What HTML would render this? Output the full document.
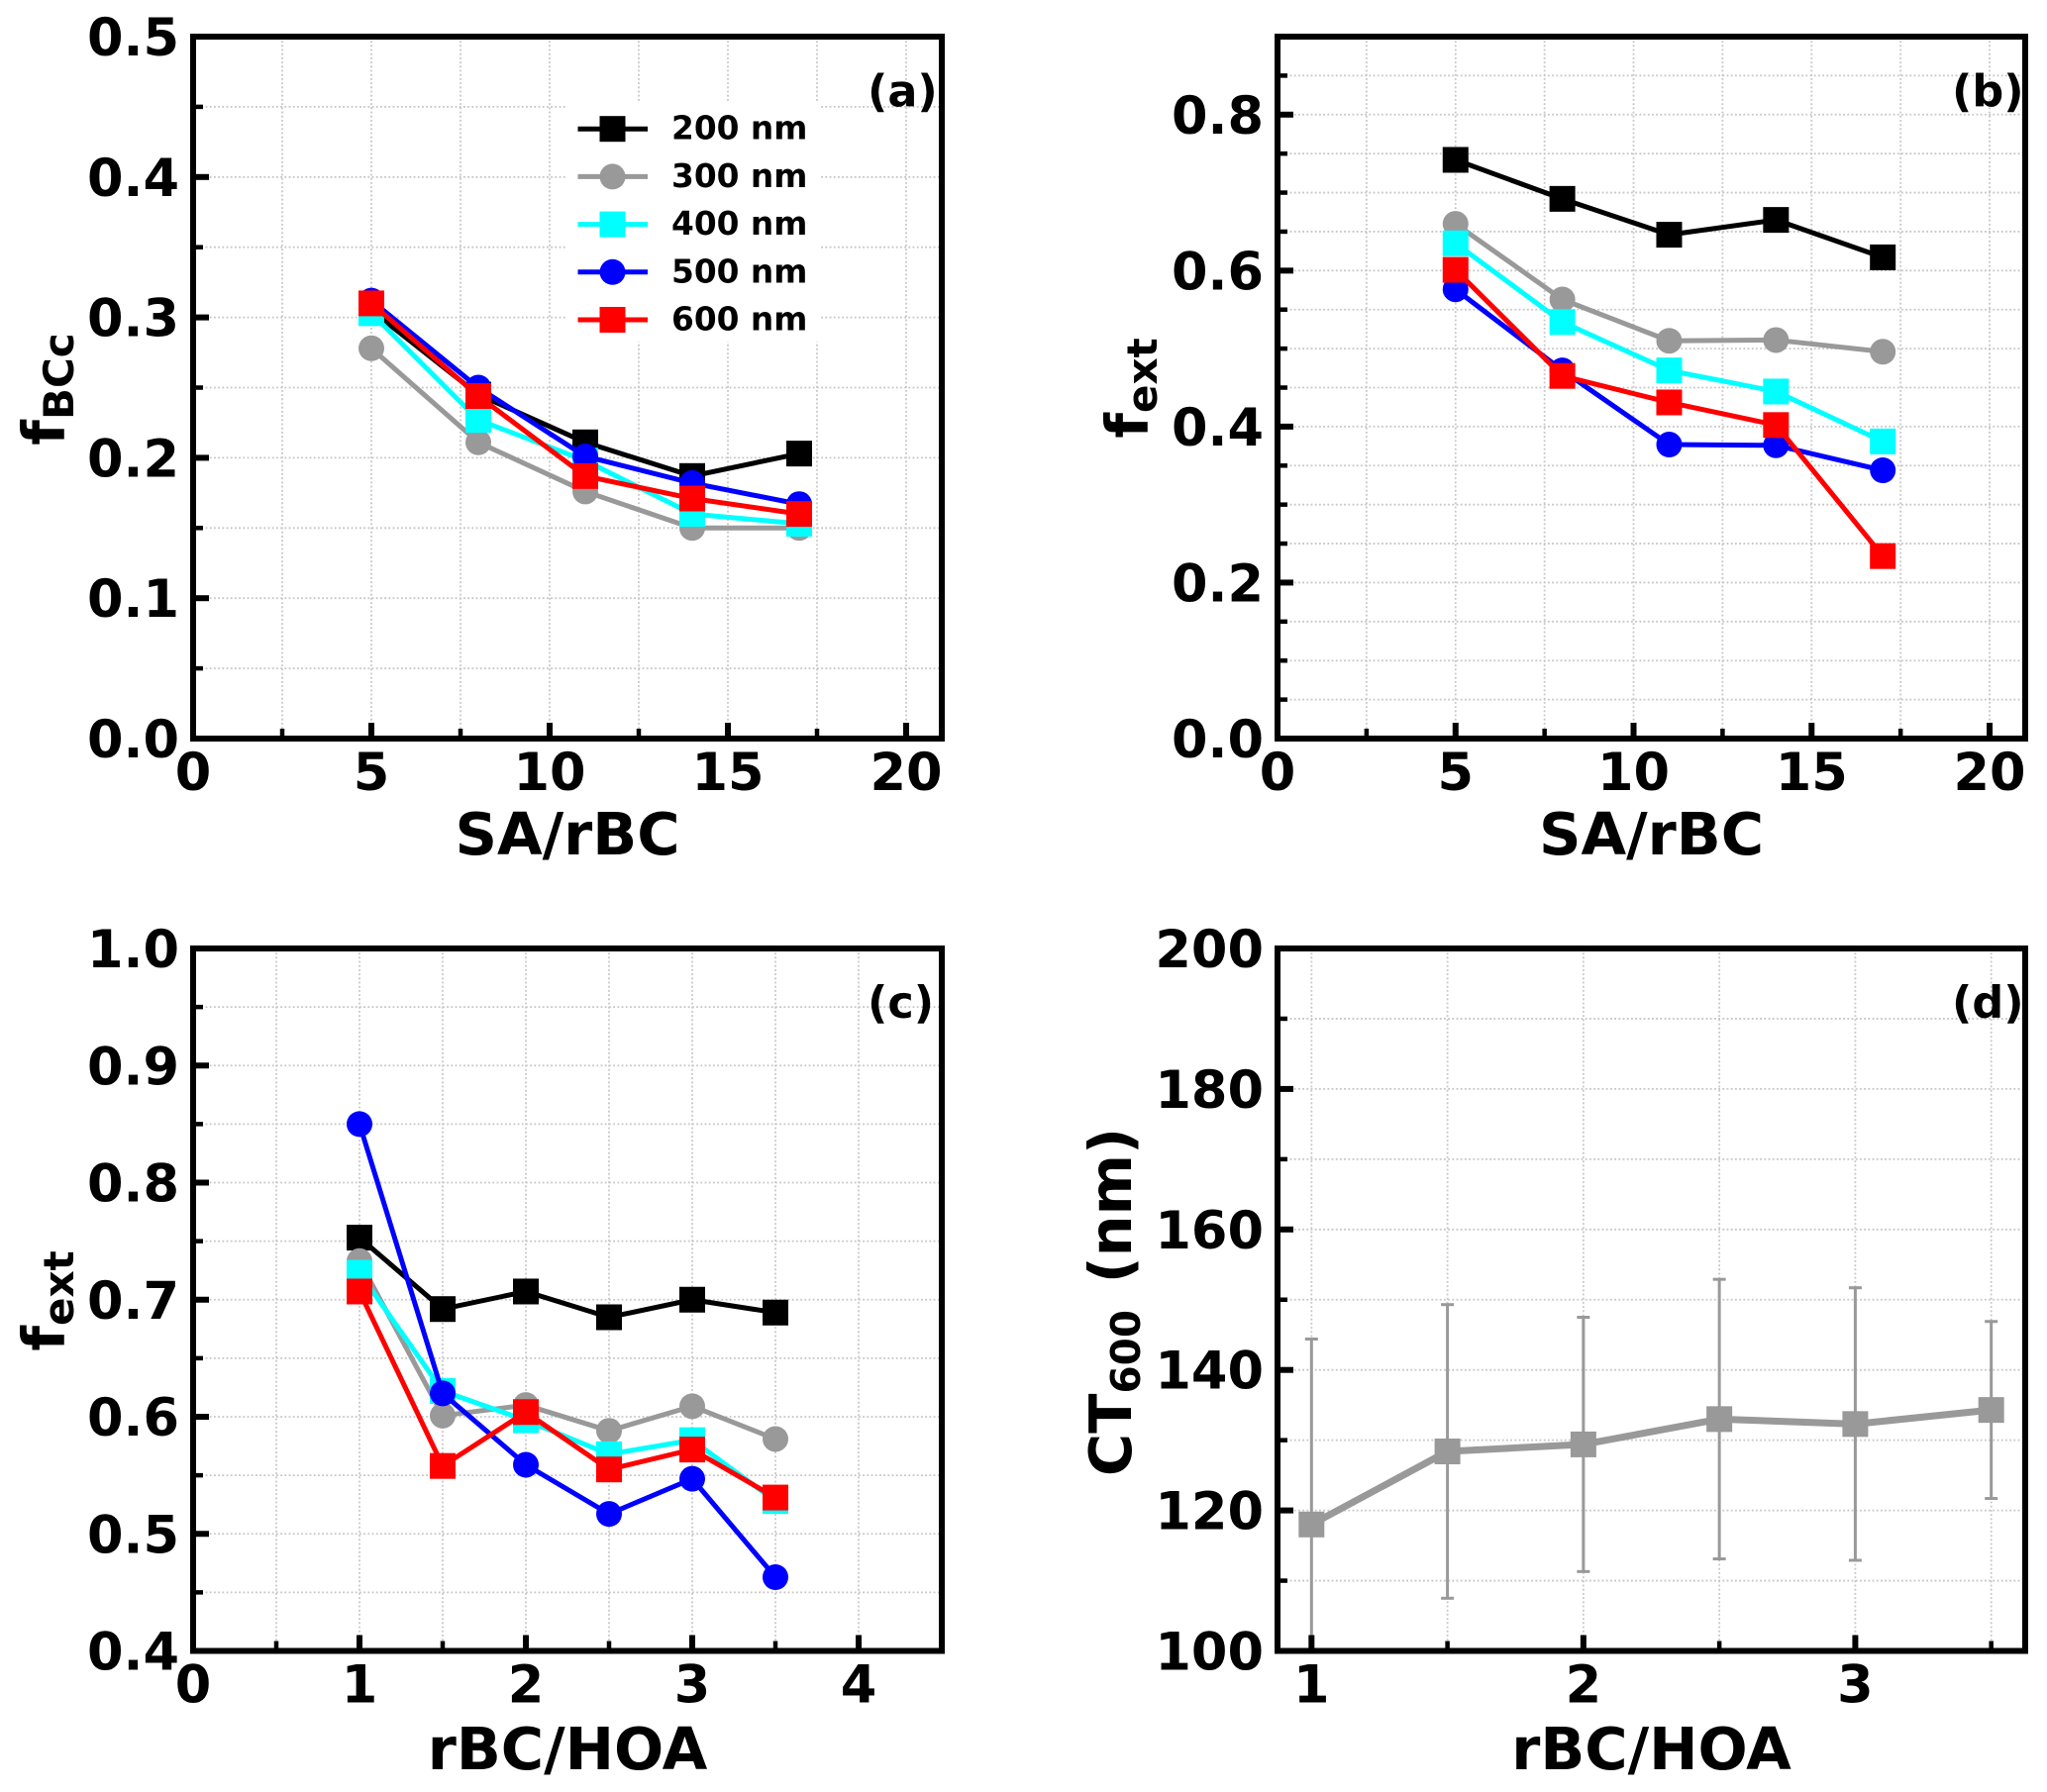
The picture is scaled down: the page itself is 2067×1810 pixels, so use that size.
<!DOCTYPE html>
<html lang="en">
<head>
<meta charset="utf-8">
<title>Four-panel line charts</title>
<style>
html,body{margin:0;padding:0;background:#fff;}
svg{display:block;}
text{font-family:"DejaVu Sans","Liberation Sans",sans-serif;font-weight:bold;fill:#000;}
</style>
</head>
<body>
<svg id="figure" xmlns="http://www.w3.org/2000/svg" width="2067" height="1810" viewBox="0 0 2067 1810"></svg>
<script>
// ---- shared series names ----
const sizeLabels = ['200 nm', '300 nm', '400 nm', '500 nm', '600 nm'];

// ---- panel (a) ----
const xValuesA = [5, 8, 11, 14, 17];
const fbcc200 = [0.305, 0.245, 0.211, 0.187, 0.203];
const fbcc300 = [0.278, 0.211, 0.176, 0.150, 0.150];
const fbcc400 = [0.303, 0.227, 0.198, 0.160, 0.153];
const fbcc500 = [0.312, 0.250, 0.201, 0.182, 0.167];
const fbcc600 = [0.310, 0.244, 0.187, 0.171, 0.160];
const xMajorA = [0, 5, 10, 15, 20];
const xMinorA = [2.5, 7.5, 12.5, 17.5];
const yMajorA = [0, 0.1, 0.2, 0.3, 0.4, 0.5];
const yMinorA = [0.05, 0.15, 0.25, 0.35, 0.45];

// ---- panel (b) ----
const xValuesB = [5, 8, 11, 14, 17];
const fextB200 = [0.742, 0.692, 0.646, 0.665, 0.617];
const fextB300 = [0.660, 0.563, 0.510, 0.511, 0.496];
const fextB400 = [0.635, 0.534, 0.472, 0.445, 0.381];
const fextB500 = [0.576, 0.472, 0.377, 0.376, 0.344];
const fextB600 = [0.601, 0.465, 0.431, 0.402, 0.234];
const xMajorB = [0, 5, 10, 15, 20];
const xMinorB = [2.5, 7.5, 12.5, 17.5];
const yMajorB = [0, 0.2, 0.4, 0.6, 0.8];
const yMinorB = [0.05, 0.1, 0.15, 0.25, 0.3, 0.35, 0.45, 0.5, 0.55, 0.65, 0.7, 0.75, 0.85];

// ---- panel (c) ----
const xValuesC = [1, 1.5, 2, 2.5, 3, 3.5];
const fextC200 = [0.753, 0.692, 0.707, 0.685, 0.700, 0.689];
const fextC300 = [0.733, 0.601, 0.610, 0.588, 0.609, 0.581];
const fextC400 = [0.723, 0.622, 0.597, 0.568, 0.580, 0.528];
const fextC500 = [0.850, 0.620, 0.559, 0.517, 0.547, 0.463];
const fextC600 = [0.707, 0.558, 0.604, 0.555, 0.572, 0.531];
const xMajorC = [0, 1, 2, 3, 4];
const xMinorC = [0.5, 1.5, 2.5, 3.5];
const yMajorC = [0.4, 0.5, 0.6, 0.7, 0.8, 0.9, 1.0];
const yMinorC = [0.45, 0.55, 0.65, 0.75, 0.85, 0.95];

// ---- panel (d) ----
const xValuesD = [1, 1.5, 2, 2.5, 3, 3.5];
const ct600Mean = [118.0, 128.4, 129.4, 133.0, 132.3, 134.3];
const ct600Error = [26.4, 20.9, 18.1, 19.9, 19.4, 12.6];
const xMajorD = [1, 2, 3];
const xMinorD = [1.5, 2.5, 3.5];
const yMajorD = [100, 120, 140, 160, 180, 200];
const yMinorD = [110, 130, 150, 170, 190];

const seriesColors = ['#000000', '#999999', '#00ffff', '#0000ff', '#ff0000'];
const seriesShapes = ['square', 'circle', 'square', 'circle', 'square'];

const SVG_NS = 'http://www.w3.org/2000/svg';
const figure = document.getElementById('figure');

function svgEl(tag, attrs, parent, content) {
  const node = document.createElementNS(SVG_NS, tag);
  for (const key in attrs) node.setAttribute(key, attrs[key]);
  if (content !== undefined) node.textContent = content;
  parent.appendChild(node);
  return node;
}

function linearAxis(domainMin, domainMax, rangeMin, rangeMax) {
  return function (value) {
    return rangeMin + (value - domainMin) / (domainMax - domainMin) * (rangeMax - rangeMin);
  };
}

function drawMarker(parent, shape, cx, cy, color, seriesName) {
  let el;
  if (shape === 'circle') {
    el = svgEl('circle', {cx: cx, cy: cy, r: 13, fill: color}, parent);
  } else {
    el = svgEl('rect', {x: cx - 13, y: cy - 13, width: 26, height: 26, fill: color}, parent);
  }
  
  
}

function drawPanel(p) {
  const sx = linearAxis(p.xMin, p.xMax, p.left, p.right);
  const sy = linearAxis(p.yMin, p.yMax, p.bottom, p.top);

  const panel = svgEl('g', {}, figure);
  
  

  const defs = svgEl('defs', {}, panel);
  const clip = svgEl('clipPath', {id: 'clip-' + p.id}, defs);
  svgEl('rect', {x: p.left, y: p.top, width: p.right - p.left, height: p.bottom - p.top}, clip);

  // grid
  const grid = svgEl('g', {stroke: '#c6c6c6', 'stroke-width': 1.8, 'stroke-dasharray': '1.8 2.4', fill: 'none'}, panel);
  
  
  p.xMajor.concat(p.xMinor).forEach(function (v) {
    const gridV = svgEl('line', {x1: sx(v), x2: sx(v), y1: p.top, y2: p.bottom}, grid);
    
    
  });
  p.yMajor.concat(p.yMinor).forEach(function (v) {
    const gridH = svgEl('line', {x1: p.left, x2: p.right, y1: sy(v), y2: sy(v)}, grid);
    
    
  });

  // error bars
  const plot = svgEl('g', {'clip-path': 'url(#clip-' + p.id + ')'}, panel);
  
  

  if (p.errors) {
    p.x.forEach(function (xv, i) {
      const hi = p.series[0].values[i] + p.errors[i];
      const lo = p.series[0].values[i] - p.errors[i];
      const bar = svgEl('line', {x1: sx(xv), x2: sx(xv), y1: sy(hi), y2: sy(lo), stroke: p.series[0].color, 'stroke-width': 3}, plot);
      
      
      [hi, lo].forEach(function (capValue) {
        const cap = svgEl('line', {x1: sx(xv) - 6.5, x2: sx(xv) + 6.5, y1: sy(capValue), y2: sy(capValue), stroke: p.series[0].color, 'stroke-width': 3}, plot);
        
        
      });
    });
  }

  // series
  p.series.forEach(function (s) {
    const group = svgEl('g', {}, plot);
    
    
    const pts = s.values.map(function (v, i) { return sx(p.x[i]) + ',' + sy(v); }).join(' ');
    const line = svgEl('polyline', {points: pts, fill: 'none', stroke: s.color, 'stroke-width': p.lineWidth, 'stroke-linejoin': 'round'}, group);
    
    
    s.values.forEach(function (v, i) {
      drawMarker(group, s.shape, sx(p.x[i]), sy(v), s.color, s.name.replace(' ', '-'));
    });
  });

  // legend
  if (p.legend) {
    const legend = svgEl('g', {}, panel);
    
    
    const bg = svgEl('rect', {x: 572, y: 104, width: 256, height: 241, fill: '#fff'}, legend);
    
    
    p.series.forEach(function (s, i) {
      const rowY = 130.2 + i * 48.2;
      const entry = svgEl('g', {}, legend);
      
      
      const key = svgEl('line', {x1: 583.5, x2: 654, y1: rowY, y2: rowY, stroke: s.color, 'stroke-width': 5}, entry);
      
      
      drawMarker(entry, s.shape, 618.5, rowY, s.color, 'legend');
      const label = svgEl('text', {x: 678, y: rowY + 10.5, 'font-size': 32.8}, entry, s.name);
      
      
    });
  }

  // frame
  const frame = svgEl('rect', {x: p.left, y: p.top, width: p.right - p.left, height: p.bottom - p.top, fill: 'none', stroke: '#000', 'stroke-width': 6}, panel);
  
  

  // ticks
  const ticks = svgEl('g', {stroke: '#000'}, panel);
  
  
  p.xMajor.forEach(function (v) {
    const t = svgEl('line', {x1: sx(v), x2: sx(v), y1: p.bottom, y2: p.bottom - 16, 'stroke-width': 6}, ticks);
    
    
  });
  p.xMinor.forEach(function (v) {
    const t = svgEl('line', {x1: sx(v), x2: sx(v), y1: p.bottom, y2: p.bottom - 10, 'stroke-width': 4.5}, ticks);
    
    
  });
  p.yMajor.forEach(function (v) {
    const t = svgEl('line', {x1: p.left, x2: p.left + 16, y1: sy(v), y2: sy(v), 'stroke-width': 6}, ticks);
    
    
  });
  p.yMinor.forEach(function (v) {
    const t = svgEl('line', {x1: p.left, x2: p.left + 10, y1: sy(v), y2: sy(v), 'stroke-width': 4.5}, ticks);
    
    
  });

  // tick labels
  p.xMajor.forEach(function (v) {
    const t = svgEl('text', {x: sx(v), y: p.bottom + 52, 'font-size': 52.5, 'text-anchor': 'middle'}, panel, String(v));
    
    
  });
  p.yMajor.forEach(function (v) {
    const t = svgEl('text', {x: p.left - 14, y: sy(v) + 19, 'font-size': 52.5, 'text-anchor': 'end'}, panel, v.toFixed(p.yDecimals));
    
    
  });

  // axis titles
  const xTitle = svgEl('text', {x: (p.left + p.right) / 2, y: p.xTitleY, 'font-size': 59, 'text-anchor': 'middle'}, panel, p.xTitle);
  
  

  const yTitle = svgEl('text', {x: 0, y: 0, 'font-size': 59, 'text-anchor': 'middle', transform: 'translate(' + p.yTitleX + ' ' + p.yTitleY + ') rotate(-90)'}, panel);
  
  
  svgEl('tspan', {}, yTitle, p.yTitleMain);
  svgEl('tspan', {dy: 9, 'font-size': p.yTitleSubSize}, yTitle, p.yTitleSub);
  if (p.yTitleTail) svgEl('tspan', {dy: -9, dx: 6}, yTitle, p.yTitleTail);

  const tag = svgEl('text', {x: p.tagX, y: p.tagY, 'font-size': 44.5}, panel, '(' + p.id + ')');
  
  
}

function buildSeries(valueArrays) {
  return valueArrays.map(function (values, i) {
    return {name: sizeLabels[i], values: values, color: seriesColors[i], shape: seriesShapes[i]};
  });
}

drawPanel({
  id: 'a', left: 195, right: 951, top: 37, bottom: 746,
  xMin: 0, xMax: 21, yMin: 0, yMax: 0.5, yDecimals: 1, lineWidth: 5,
  x: xValuesA, series: buildSeries([fbcc200, fbcc300, fbcc400, fbcc500, fbcc600]),
  xMajor: xMajorA, xMinor: xMinorA, yMajor: yMajorA, yMinor: yMinorA,
  legend: true, xTitle: 'SA/rBC', xTitleY: 863,
  yTitleMain: 'f', yTitleSub: 'BCc', yTitleSubSize: 42, yTitleX: 65, yTitleY: 393,
  tagX: 876, tagY: 107.5
});

drawPanel({
  id: 'b', left: 1290, right: 2045, top: 37, bottom: 746,
  xMin: 0, xMax: 21, yMin: 0, yMax: 0.9, yDecimals: 1, lineWidth: 5,
  x: xValuesB, series: buildSeries([fextB200, fextB300, fextB400, fextB500, fextB600]),
  xMajor: xMajorB, xMinor: xMinorB, yMajor: yMajorB, yMinor: yMinorB,
  xTitle: 'SA/rBC', xTitleY: 863,
  yTitleMain: 'f', yTitleSub: 'ext', yTitleSubSize: 42, yTitleX: 1159, yTitleY: 392,
  tagX: 1971, tagY: 107.5
});

drawPanel({
  id: 'c', left: 195, right: 951, top: 958, bottom: 1667.5,
  xMin: 0, xMax: 4.5, yMin: 0.4, yMax: 1.0, yDecimals: 1, lineWidth: 5,
  x: xValuesC, series: buildSeries([fextC200, fextC300, fextC400, fextC500, fextC600]),
  xMajor: xMajorC, xMinor: xMinorC, yMajor: yMajorC, yMinor: yMinorC,
  xTitle: 'rBC/HOA', xTitleY: 1787,
  yTitleMain: 'f', yTitleSub: 'ext', yTitleSubSize: 42, yTitleX: 65, yTitleY: 1314,
  tagX: 876, tagY: 1028
});

drawPanel({
  id: 'd', left: 1290, right: 2045, top: 958, bottom: 1667.5,
  xMin: 0.875, xMax: 3.625, yMin: 100, yMax: 200, yDecimals: 0, lineWidth: 7,
  x: xValuesD, series: [{name: 'ct600', values: ct600Mean, color: '#999999', shape: 'square'}],
  errors: ct600Error,
  xMajor: xMajorD, xMinor: xMinorD, yMajor: yMajorD, yMinor: yMinorD,
  xTitle: 'rBC/HOA', xTitleY: 1787,
  yTitleMain: 'CT', yTitleSub: '600', yTitleSubSize: 40.6, yTitleTail: '\u00a0(nm)', yTitleX: 1142, yTitleY: 1315,
  tagX: 1971, tagY: 1028
});
</script>
</body>
</html>
